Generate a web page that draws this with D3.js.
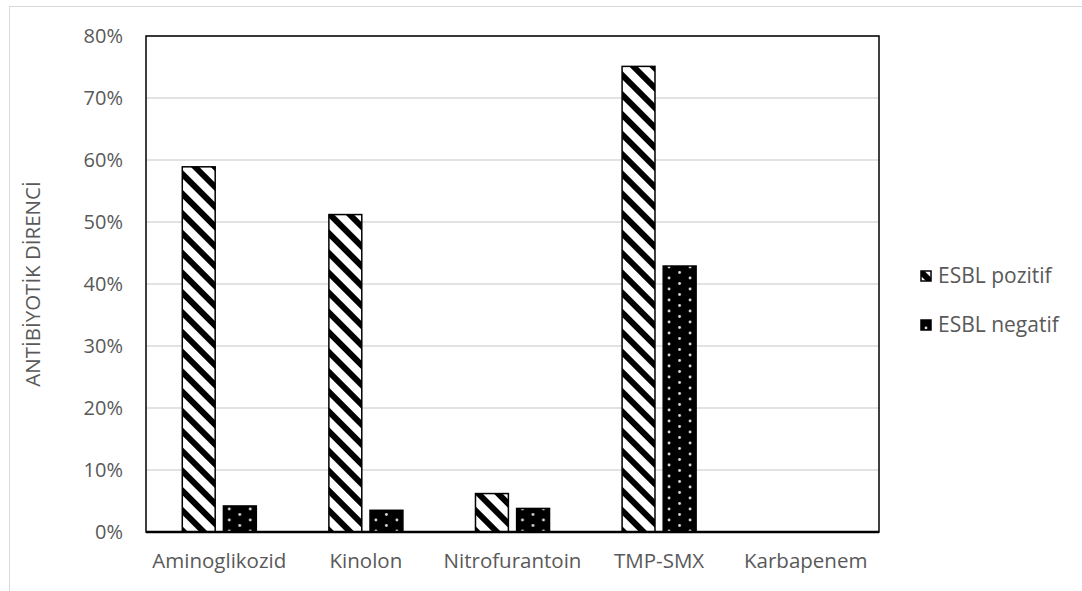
<!DOCTYPE html>
<html>
<head>
<meta charset="utf-8">
<script src="https://cdn.jsdelivr.net/npm/d3@7"></script>
<style>
  body { margin: 0; background: #fff; }
  text { font-family: "Open Sans", "Liberation Sans", sans-serif; fill: #595959; }
</style>
</head>
<body>
<div id="chart"></div>
<script>
// Data
let categories = ["Aminoglikozid", "Kinolon", "Nitrofurantoin", "TMP-SMX", "Karbapenem"];
let seriesNames = ["ESBL pozitif", "ESBL negatif"];
let pozitif = [0.589, 0.512, 0.062, 0.751, 0];
let negatif = [0.042, 0.035, 0.038, 0.429, 0];
let yTicks = [0, 0.1, 0.2, 0.3, 0.4, 0.5, 0.6, 0.7, 0.8];
let yTitle = "ANTİBİYOTİK DİRENCİ";

// svg attributes
let svgWidth = 1082;
let svgHeight = 591;
let plot = {left: 146, right: 879, top: 36, bottom: 532};

let svg = d3.select("#chart")
  .append("svg")
  .attr("width", svgWidth)
  .attr("height", svgHeight);

// fill patterns
let defs = svg.append("defs");
let stripes = defs.append("pattern")
  .attr("id", "stripes")
  .attr("patternUnits", "userSpaceOnUse")
  .attr("width", 14).attr("height", 14)
  .attr("patternTransform", "rotate(-45)");
stripes.append("rect").attr("width", 14).attr("height", 14).attr("fill", "#fff");
stripes.append("rect").attr("x", 0).attr("width", 6).attr("height", 14).attr("fill", "#000");

let dots = defs.append("pattern")
  .attr("id", "dots")
  .attr("patternUnits", "userSpaceOnUse")
  .attr("width", 21).attr("height", 11);
dots.append("rect").attr("width", 21).attr("height", 11).attr("fill", "#000");
dots.selectAll("circle")
  .data([[5, 3], [15.5, 8.5]])
  .enter().append("circle")
  .attr("cx", d => d[0]).attr("cy", d => d[1]).attr("r", 1.4)
  .attr("fill", "#ddd");

let fills = ["url(#stripes)", "url(#dots)"];

// outer chart border
svg.append("rect")
  .attr("x", 9.5).attr("y", 6.5)
  .attr("width", svgWidth).attr("height", svgHeight)
  .attr("fill", "none").attr("stroke", "#d9d9d9");

// scales
let x0 = d3.scaleBand()
  .domain(categories)
  .range([plot.left, plot.right])
  .paddingInner(0.495)
  .paddingOuter(0.2475);

let x1 = d3.scaleBand()
  .domain(seriesNames)
  .range([0, x0.bandwidth()])
  .paddingInner(0.2);

let y = d3.scaleLinear()
  .domain([0, 0.8])
  .range([plot.bottom, plot.top]);

// gridlines
svg.append("g")
  .selectAll("line")
  .data(yTicks)
  .enter().append("line")
  .attr("x1", plot.left).attr("x2", plot.right)
  .attr("y1", d => y(d)).attr("y2", d => y(d))
  .attr("stroke", "#d9d9d9").attr("stroke-width", 1.5);

// y axis labels
let yAxis = svg.append("g")
  .attr("transform", `translate(${plot.left},0)`)
  .call(d3.axisLeft(y).tickValues(yTicks).tickFormat(d3.format(".0%")).tickSize(0).tickPadding(23));
yAxis.select(".domain").remove();
yAxis.selectAll("text")
  .style("font-size", "20px")
  .attr("fill", "#595959");

// bars
let rows = categories.map((c, i) => ({cat: c, vals: [pozitif[i], negatif[i]]}));
let groups = svg.append("g")
  .selectAll("g")
  .data(rows)
  .enter().append("g")
  .attr("transform", d => `translate(${x0(d.cat)},0)`);

groups.selectAll("rect")
  .data(d => d.vals.map((v, j) => ({name: seriesNames[j], v: v, j: j})).filter(e => e.v > 0))
  .enter().append("rect")
  .attr("x", d => x1(d.name))
  .attr("y", d => y(d.v))
  .attr("width", x1.bandwidth())
  .attr("height", d => y(0) - y(d.v))
  .attr("fill", d => fills[d.j])
  .attr("stroke", "#000")
  .attr("stroke-width", 1.5);

// plot frame
svg.append("rect")
  .attr("x", plot.left).attr("y", plot.top)
  .attr("width", plot.right - plot.left).attr("height", plot.bottom - plot.top)
  .attr("fill", "none").attr("stroke", "#000").attr("stroke-width", 1.5);
svg.append("line")
  .attr("x1", plot.left).attr("x2", plot.right)
  .attr("y1", plot.bottom).attr("y2", plot.bottom)
  .attr("stroke", "#000").attr("stroke-width", 2.5);

// x axis labels
let xAxis = svg.append("g")
  .attr("transform", `translate(0,${plot.bottom})`)
  .call(d3.axisBottom(x0).tickSize(0).tickPadding(21));
xAxis.select(".domain").remove();
xAxis.selectAll("text")
  .style("font-size", "20.5px")
  .attr("fill", "#595959");

// y title
svg.append("text")
  .attr("transform", `translate(40,${(plot.top + plot.bottom) / 2}) rotate(-90)`)
  .attr("text-anchor", "middle")
  .style("font-size", "20.5px")
  .text(yTitle);

// legend
let legend = svg.append("g")
  .selectAll("g")
  .data(seriesNames)
  .enter().append("g")
  .attr("transform", (d, i) => `translate(921,${276 + i * 49})`);
legend.append("rect")
  .attr("x", 0).attr("y", -5)
  .attr("width", 10).attr("height", 10)
  .attr("fill", (d, i) => fills[i])
  .attr("stroke", "#000").attr("stroke-width", 1.5);
legend.append("text")
  .attr("x", 17).attr("y", 0)
  .attr("dy", "0.35em")
  .style("font-size", "21px")
  .text(d => d);
</script>
</body>
</html>
